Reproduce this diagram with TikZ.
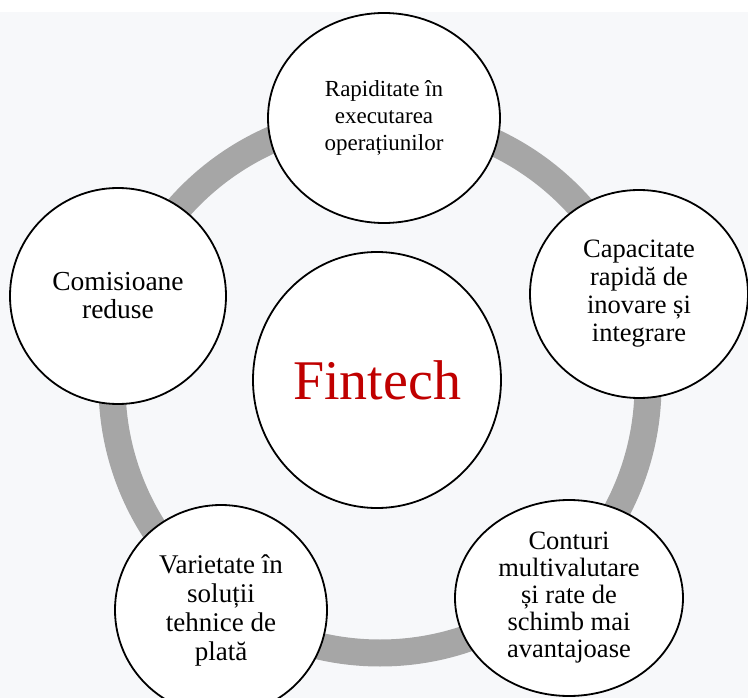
\documentclass[tikz,border=0pt]{standalone}
\usepackage{fontspec}
\setmainfont{Liberation Serif}
\usetikzlibrary{shapes.geometric}
\definecolor{backgray}{HTML}{F7F8FA}
\definecolor{ringgray}{HTML}{A6A6A6}
\definecolor{finred}{HTML}{C00000}

\begin{document}
\begin{tikzpicture}[x=1pt,y=-1pt,
  bubble/.style={ellipse,draw,line width=1.8pt,fill=white,inner sep=0pt,align=center,
    font=\fontsize{26.5}{28}\selectfont}]
  \useasboundingbox (0,0) rectangle (748,698);
  \fill[white] (0,0) rectangle (748,12);
  \fill[backgray] (0,12) rectangle (748,698);
  \draw[ringgray,line width=27pt] (380,385) circle[radius=268pt];
  \node[bubble,minimum width=232pt,minimum height=210pt,font=\fontsize{23}{27}\selectfont] (rapid) at (384,118) {Rapiditate în\\executarea\\operațiunilor};
  \node[bubble,minimum width=218pt,minimum height=208pt] (inov) at (639,294) {Capacitate\\rapidă de\\inovare și\\integrare};
  \node[bubble,minimum width=228pt,minimum height=196pt,font=\fontsize{26.5}{27}\selectfont] (cont) at (569,598) {Conturi\\multivalutare\\și rate de\\schimb mai\\avantajoase};
  \node[bubble,minimum width=212pt,minimum height=210pt,font=\fontsize{27}{29}\selectfont] (plata) at (221,610) {Varietate în\\soluții\\tehnice de\\plată};
  \node[bubble,minimum width=216pt,minimum height=216pt,font=\fontsize{27.5}{28}\selectfont] (comis) at (118,296) {Comisioane\\reduse};
  \node[bubble,minimum width=248pt,minimum height=256pt,text=finred,font=\fontsize{56}{60}\selectfont] (fin) at (377,380) {Fintech};
\end{tikzpicture}
\end{document}
